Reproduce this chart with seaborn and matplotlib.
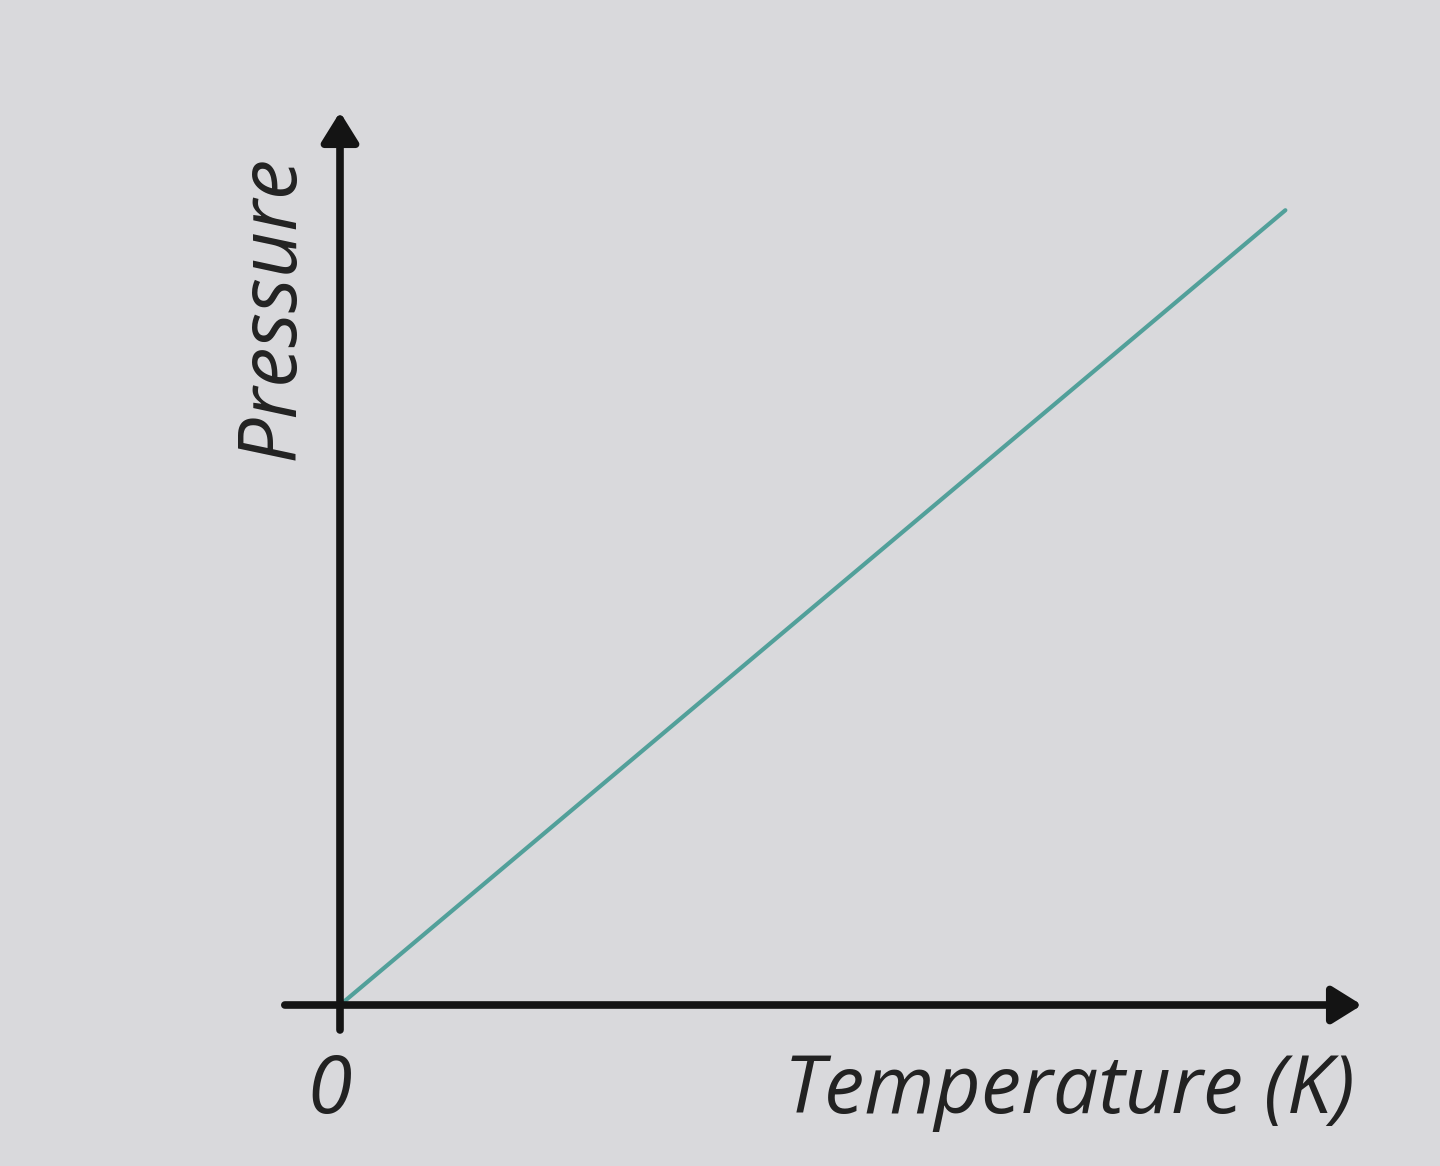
import matplotlib.pyplot as plt
import seaborn as sns
import pandas as pd

# values (arbitrary units, axes run 0..10)
temperature = [0.0, 9.25]
pressure = [0.0, 8.9]
x_label = "Temperature (K)"
y_label = "Pressure"
origin_label = "0"

data = pd.DataFrame({"temperature": temperature, "pressure": pressure})

sns.set_style("white")
plt.rcParams["font.family"] = ["Open Sans", "DejaVu Sans"]

bg = "#d9d9dc"
fig = plt.figure(figsize=(14.4, 11.66), dpi=100, facecolor=bg)
# origin sits at about (340, 1005) px, arrows end at x=1362 and y=112
ax = fig.add_axes([340 / 1440, 161 / 1166, 1022 / 1440, 893 / 1166])
ax.set_facecolor(bg)

_ = sns.lineplot(data=data, x="temperature", y="pressure", color="#52a09a",
                 linewidth=3.0, ax=ax)

ax.set_xlim(0, 10)
ax.set_ylim(0, 10)
for s in ax.spines.values():
    s.set_visible(False)
ax.set_xticks([])
ax.set_yticks([])
ax.set_xlabel("")
ax.set_ylabel("")

arrow = dict(arrowstyle="-|>,head_length=0.45,head_width=0.28", color="#141414",
             lw=5.5, shrinkA=0, shrinkB=0, mutation_scale=40)
ax.annotate("", xy=(1.0, 0), xytext=(-0.054, 0), xycoords="axes fraction",
            textcoords="axes fraction", arrowprops=arrow, annotation_clip=False)
ax.annotate("", xy=(0, 1.0), xytext=(0, -0.028), xycoords="axes fraction",
            textcoords="axes fraction", arrowprops=arrow, annotation_clip=False)

font = dict(fontsize=58, fontstyle="italic", fontweight="normal", color="#222222")
ax.text(1.0 - 7 / 1022, -47 / 893, x_label, transform=ax.transAxes, ha="right",
        va="top", **font)
ax.text(-10 / 1022, -47 / 893, origin_label, transform=ax.transAxes, ha="center",
        va="top", **font)
ax.text(-68 / 1022, (1005 - 307) / 893, y_label, transform=ax.transAxes, ha="center",
        va="center", rotation=90, **font)

plt.savefig("out.png", dpi=100, facecolor=bg)
plt.close()
